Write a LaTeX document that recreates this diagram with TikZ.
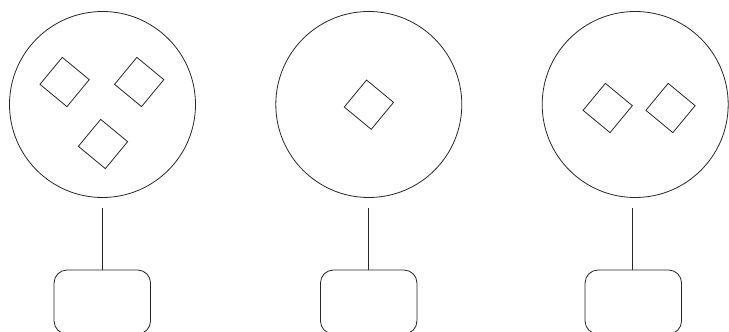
\documentclass[tikz,border=0pt]{standalone}
\begin{document}
\begin{tikzpicture}[x=1pt,y=1pt,
  ring/.style={draw=black!85,line width=0.8pt,circle,inner sep=0pt,minimum size=186pt},
  gem/.style={draw=black!85,line width=0.8pt,rectangle,inner sep=0pt,minimum size=35pt,rotate=50.4},
  box/.style={draw=black!85,line width=0.8pt,rectangle,rounded corners=13pt,inner sep=0pt,minimum width=96.5pt,minimum height=64pt},
  link/.style={draw=black!85,line width=0.8pt,shorten >=9.7pt}]
\useasboundingbox (0,0) rectangle (729,332);
\clip (0,0) rectangle (729,332);
% circles
\node[ring] (c1) at (102.5,227.5) {};
\node[ring] (c2) at (368.8,227.5) {};
\node[ring] (c3) at (635.2,227.5) {};
% diamonds
\node[gem] (d1a) at (64.6,250) {};
\node[gem] (d1b) at (139.2,250) {};
\node[gem] (d1c) at (103,188) {};
\node[gem] (d2) at (368.9,227.3) {};
\node[gem] (d3a) at (607.7,224) {};
\node[gem] (d3b) at (670.5,224) {};
% boxes
\node[box] (r1) at (102.3,30) {};
\node[box] (r2) at (368.7,30) {};
\node[box] (r3) at (633.3,30) {};
% connectors
\draw[link] (r1.north) -- (r1.north |- c1.south);
\draw[link] (r2.north) -- (r2.north |- c2.south);
\draw[link] ([xshift=-0.6pt]r3.north) -- ([xshift=-0.6pt]r3.north |- c3.south);
\end{tikzpicture}
\end{document}
